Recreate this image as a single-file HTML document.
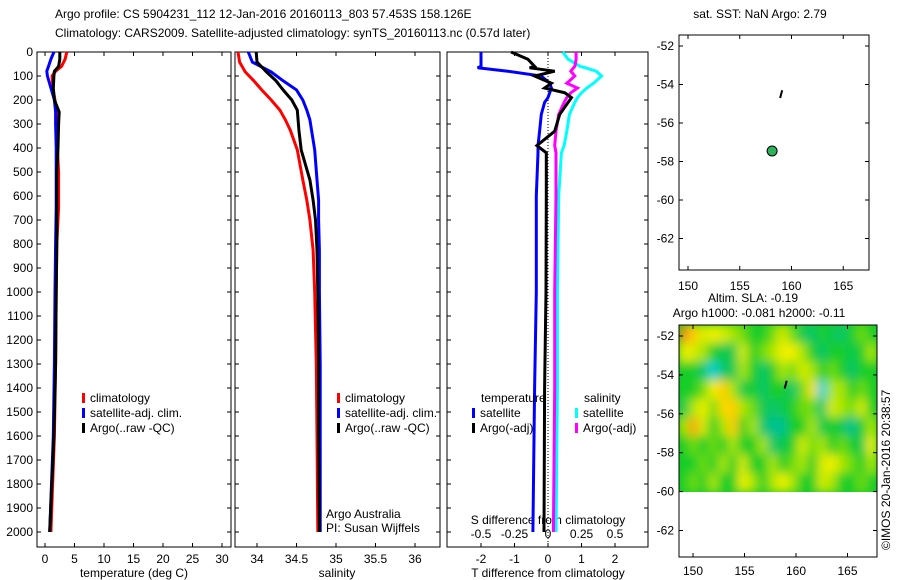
<!DOCTYPE html>
<html><head><meta charset="utf-8"><style>
body{margin:0;background:#fff;}
svg{display:block;font-family:"Liberation Sans",sans-serif;font-size:12px;}
</style></head><body>
<svg id="c" width="900" height="580" xmlns="http://www.w3.org/2000/svg"></svg>
<script>
// ---- data ----
const tDepth=[0,30,60,80,100,150,200,250,300,400,500,650,800,1000,1300,1600,2000];
const tClim=[3.7,3.4,2.8,1.8,1.2,1.3,1.7,2.0,2.1,2.1,2.3,2.3,2.0,1.9,1.8,1.6,1.0];
const tSat=[1.5,1.0,0.6,0.3,0.4,1.0,1.6,1.8,1.8,1.9,1.9,1.9,1.8,1.7,1.6,1.4,0.8];
const tArgo=[2.5,2.5,2.3,1.6,1.5,1.4,1.6,2.4,2.3,2.2,2.0,2.0,2.0,1.9,1.8,1.5,0.8];
const sDepth=[0,42,83,120,158,200,242,283,325,408,533,617,700,825,1000,1300,1600,2000];
const sClim=[33.76,33.78,33.85,33.96,34.06,34.18,34.29,34.36,34.42,34.51,34.58,34.63,34.67,34.71,34.73,34.75,34.76,34.77];
const sSat=[33.89,33.94,34.18,34.33,34.50,34.58,34.63,34.67,34.69,34.73,34.76,34.78,34.78,34.79,34.79,34.80,34.80,34.80];
const sArgo=[33.99,34.00,34.12,34.24,34.33,34.44,34.51,34.52,34.53,34.56,34.67,34.71,34.74,34.76,34.77,34.78,34.78,34.79];
const dDepth=[0,30,60,66,80,100,130,150,170,190,210,260,330,390,420,600,1000,1400,2000];
const dTsat=[-2.0,-2.0,-2.0,-2.1,-1.2,-0.2,0.05,0.1,0.05,0.0,-0.1,-0.2,-0.25,-0.3,-0.3,-0.35,-0.35,-0.4,-0.45];
const dTargo=[-1.1,-0.6,-0.4,-0.55,0.2,-0.4,0.1,-0.1,0.5,0.7,0.6,0.35,0.2,-0.33,-0.05,-0.05,-0.06,-0.1,-0.12];
const dSsat=[0.11,0.15,0.24,0.28,0.36,0.40,0.34,0.29,0.25,0.22,0.20,0.16,0.14,0.12,0.10,0.08,0.07,0.07,0.06];
const dSargo=[0.21,0.21,0.20,0.19,0.17,0.20,0.14,0.22,0.17,0.14,0.12,0.08,0.06,0.05,0.06,0.06,0.05,0.05,0.04];
const slaRows=[
[2,1.5,0.8,1,0.8,0.5,0.3,0,0,0.3,0.8,0.3,-0.3,-0.5,0,-0.3,-0.5,0,0.3,0],
[1,0.8,0.5,0,-0.3,-0.3,0.8,0,0.3,0.5,1,1,0.5,0,-0.5,0,0,-0.3,0,0.5],
[0,0,-0.5,-1.5,-0.5,-0.3,0.5,0,-0.5,0,0.5,0.3,0.8,0.5,0,0.3,0,-0.5,0,0],
[0,0,0.3,1,1.5,0.5,-0.3,0,-0.5,0,0,-0.5,0.3,1.2,-1.5,0.5,0.5,0,0.3,0],
[-0.3,0.5,1,0.3,1.3,1.5,0.5,0.3,-0.3,-0.5,-0.3,0,0.3,0.3,-0.5,0.8,0.5,0.3,0.8,0],
[0.5,1.8,0.8,0,0.5,1.5,0,0.5,-0.5,-0.8,-0.8,0,0,0.5,-0.3,0,-0.3,-0.8,0,0.5],
[0,0.3,0,0.3,0,0.5,0,0,0.5,-0.5,-0.3,0,0.8,0.3,0.5,0,0.3,0,-0.3,1],
[0,0,0.3,0,0.5,0,0.8,0,0,0.5,0,0.3,0.5,0,0.8,1,0.5,0.3,0,0.5],
[0,0.3,0,0.5,0,0,1,0.5,0,0.5,1,0.5,0,0,0.8,0.5,0,0,0.3,0]];
const depthTicks=[0,100,200,300,400,500,600,700,800,900,1000,1100,1200,1300,1400,1500,1600,1700,1800,1900,2000];
const tTicks=[0,5,10,15,20,25,30];
const sTicks=[34,34.5,35,35.5,36];
const dTTicks=[-2,-1,0,1,2];
const dSTicks=["-0.5","-0.25","0","0.25","0.5"];
const latTicks=[-52,-54,-56,-58,-60,-62];
const lonTicks=[150,155,160,165];

// ---- helpers ----
const svg=document.getElementById('c');const NS='http://www.w3.org/2000/svg';
function el(tag,attrs,parent){const e=document.createElementNS(NS,tag);for(const k in attrs)e.setAttribute(k,attrs[k]);(parent||svg).appendChild(e);return e;}
function txt(x,y,s,anchor,name,extra){const t=el('text',Object.assign({x:x,y:y,'text-anchor':anchor||'start',fill:'#000'},extra||{}));t.textContent=s;


return t;}
const yD=d=>52+d*0.24;
function frame(x0,y0,x1,y1,name){const r=el('rect',{x:x0,y:y0,width:x1-x0,height:y1-y0,fill:'none',stroke:'#000','stroke-width':1});

}
function line(xs,ys,col,w,name){const p=xs.map((v,i)=>xs[i].toFixed(1)+','+ys[i].toFixed(1)).join(' ');
const l=el('polyline',{points:p,fill:'none',stroke:col,'stroke-width':w});

}
function depthAxis(x0,x1,labels){depthTicks.forEach(d=>{const y=yD(d);el('line',{x1:x0,y1:y,x2:x0+4,y2:y,stroke:'#000'});el('line',{x1:x1-4,y1:y,x2:x1,y2:y,stroke:'#000'});
if(labels)txt(x0-4,y+4,String(d),'end','depth-tick-label');});}

// titles
txt(55,18,'Argo profile: CS 5904231_112 12-Jan-2016 20160113_803 57.453S 158.126E','start','plot-title');
txt(55,37,'Climatology: CARS2009. Satellite-adjusted climatology: synTS_20160113.nc (0.57d later)','start','plot-subtitle');

// panel 1 temperature
const xT=v=>45+v*5.9;
frame(37,52,231,547,'temperature-panel');depthAxis(37,231,true);
tTicks.forEach(v=>{const x=xT(v);el('line',{x1:x,y1:547,x2:x,y2:543,stroke:'#000'});el('line',{x1:x,y1:52,x2:x,y2:56,stroke:'#000'});txt(x,563,String(v),'middle','temperature-tick-label');});
txt(134,577,'temperature (deg C)','middle','x-axis-title-temperature');
line(tClim.map(xT),tDepth.map(yD),'#f00',3,'temperature-climatology-line');
line(tSat.map(xT),tDepth.map(yD),'#00f',3,'temperature-satellite-line');
line(tArgo.map(xT),tDepth.map(yD),'#000',3,'temperature-argo-line');
function legend(x,y,col,label,name){el('rect',{x:x,y:y-9,width:3,height:10,fill:col});txt(x+8,y,label,'start',name);}
legend(82,402,'#f00','climatology','legend-climatology');
legend(82,417,'#00f','satellite-adj. clim.','legend-satellite');
legend(82,432,'#000','Argo(..raw -QC)','legend-argo');

// panel 2 salinity
const xS=v=>257+(v-34)*79;
frame(235,52,440,547,'salinity-panel');depthAxis(235,440,false);
sTicks.forEach(v=>{const x=xS(v);el('line',{x1:x,y1:547,x2:x,y2:543,stroke:'#000'});el('line',{x1:x,y1:52,x2:x,y2:56,stroke:'#000'});txt(x,563,String(v),'middle','salinity-tick-label');});
txt(337,577,'salinity','middle','x-axis-title-salinity');
line(sClim.map(xS),sDepth.map(yD),'#f00',3,'salinity-climatology-line');
line(sSat.map(xS),sDepth.map(yD),'#00f',3,'salinity-satellite-line');
line(sArgo.map(xS),sDepth.map(yD),'#000',3,'salinity-argo-line');
legend(337,402,'#f00','climatology','legend-climatology-2');
legend(337,417,'#00f','satellite-adj. clim.','legend-satellite-2');
legend(337,432,'#000','Argo(..raw -QC)','legend-argo-2');
txt(326,518,'Argo Australia','start','data-source-label');
txt(326,532,'PI: Susan Wijffels','start','pi-label');

// panel 3 differences
const xDT=v=>548+v*33.5, xDS=v=>548+v*134;
frame(447,52,648,547,'difference-panel');depthAxis(447,648,false);
dTTicks.forEach(v=>{const x=xDT(v);el('line',{x1:x,y1:547,x2:x,y2:543,stroke:'#000'});el('line',{x1:x,y1:52,x2:x,y2:56,stroke:'#000'});txt(x,563,String(v),'middle','t-diff-tick-label');});
dSTicks.forEach((s,i)=>txt(xDT(dTTicks[i]),538,s,'middle','s-diff-tick-label'));
txt(548,524,'S difference from climatology','middle','s-diff-axis-title');
txt(548,577,'T difference from climatology','middle','t-diff-axis-title');
el('line',{x1:548,y1:52,x2:548,y2:547,stroke:'#000','stroke-dasharray':'1,2'});
line(dSsat.map(xDS),dDepth.map(yD),'#0ff',3,'salinity-satellite-diff-line');
line(dSargo.map(xDS),dDepth.map(yD),'#f0f',3,'salinity-argo-diff-line');
line(dTsat.map(xDT),dDepth.map(yD),'#00f',3,'temperature-satellite-diff-line');
line(dTargo.map(xDT),dDepth.map(yD),'#000',3,'temperature-argo-diff-line');
txt(481,402,'temperature','start','legend-temperature-header');
txt(584,402,'salinity','start','legend-salinity-header');
legend(472,417,'#00f','satellite','legend-t-satellite');
legend(472,432,'#000','Argo(-adj)','legend-t-argo');
legend(575,417,'#0ff','satellite','legend-s-satellite');
legend(575,432,'#f0f','Argo(-adj)','legend-s-argo');

// top map
const mxT=v=>688+(v-150)*10.35, myT=v=>46+(-52-v)*19.25;
txt(760,18,'sat. SST: NaN Argo: 2.79','middle','sst-map-title');
frame(679,35,869,270,'sst-map');
latTicks.forEach(v=>{const y=myT(v);el('line',{x1:679,y1:y,x2:683,y2:y,stroke:'#000'});el('line',{x1:865,y1:y,x2:869,y2:y,stroke:'#000'});txt(674,y+4,String(v),'end','sst-lat-label');});
lonTicks.forEach(v=>{const x=mxT(v);el('line',{x1:x,y1:270,x2:x,y2:266,stroke:'#000'});el('line',{x1:x,y1:35,x2:x,y2:39,stroke:'#000'});txt(x,290,String(v),'middle','sst-lon-label');});
el('line',{x1:mxT(159.1),y1:myT(-54.3),x2:mxT(158.9),y2:myT(-54.7),stroke:'#000','stroke-width':2});
const dot=el('circle',{cx:mxT(158.126),cy:myT(-57.453),r:5,fill:'#2db25a',stroke:'#000'});



// bottom map
const mxB=v=>693+(v-150)*10.3, myB=v=>336+(-52-v)*19.45;
txt(753,302,'Altim. SLA: -0.19','middle','sla-map-title');
txt(759,317,'Argo h1000: -0.081 h2000: -0.11','middle','sla-map-subtitle');
const defs=el('defs',{});
const f=el('filter',{id:'bl',x:'-5%',y:'-5%',width:'110%',height:'110%'},defs);el('feGaussianBlur',{stdDeviation:'5'},f);
const cp=el('clipPath',{id:'cp'},defs);el('rect',{x:679,y:325,width:198,height:167},cp);
function cmap(v){const stops=[[-2,[0,230,255]],[-1,[0,190,170]],[0,[20,205,40]],[0.5,[170,230,0]],[1,[240,240,0]],[1.5,[255,205,0]],[2,[240,140,20]]];
v=Math.max(-2,Math.min(2,v));for(let i=0;i<stops.length-1;i++){const[a,ca]=stops[i],[b,cb]=stops[i+1];if(v<=b){const t=(v-a)/(b-a);return 'rgb('+ca.map((c,k)=>Math.round(c+(cb[k]-c)*t)).join(',')+')';}}return 'rgb(240,140,20)';}
const hg=el('g',{'clip-path':'url(#cp)'});


el('rect',{x:679,y:325,width:198,height:167,fill:cmap(0)},hg);
const inner=el('g',{filter:'url(#bl)'},hg);
const nR=slaRows.length,nC=slaRows[0].length,cw=198/nC,ch=167/nR;
slaRows.forEach((row,r)=>row.forEach((v,c)=>{const cell=el('rect',{x:679+c*cw-0.5,y:325+r*ch-0.5,width:cw+1,height:ch+1,fill:cmap(v)},inner);

}));
frame(679,325,877,557,'sla-map');
latTicks.forEach(v=>{const y=myB(v);el('line',{x1:679,y1:y,x2:683,y2:y,stroke:'#000'});el('line',{x1:873,y1:y,x2:877,y2:y,stroke:'#000'});txt(674,y+4,String(v),'end','sla-lat-label');});
lonTicks.forEach(v=>{const x=mxB(v);el('line',{x1:x,y1:557,x2:x,y2:553,stroke:'#000'});el('line',{x1:x,y1:325,x2:x,y2:329,stroke:'#000'});txt(x,575,String(v),'middle','sla-lon-label');});
el('line',{x1:mxB(159.1),y1:myB(-54.3),x2:mxB(158.9),y2:myB(-54.7),stroke:'#000','stroke-width':2});
txt(0,0,'©IMOS 20-Jan-2016 20:38:57','start','copyright-timestamp',{transform:'translate(890,550) rotate(-90)'});
</script>
</body></html>
